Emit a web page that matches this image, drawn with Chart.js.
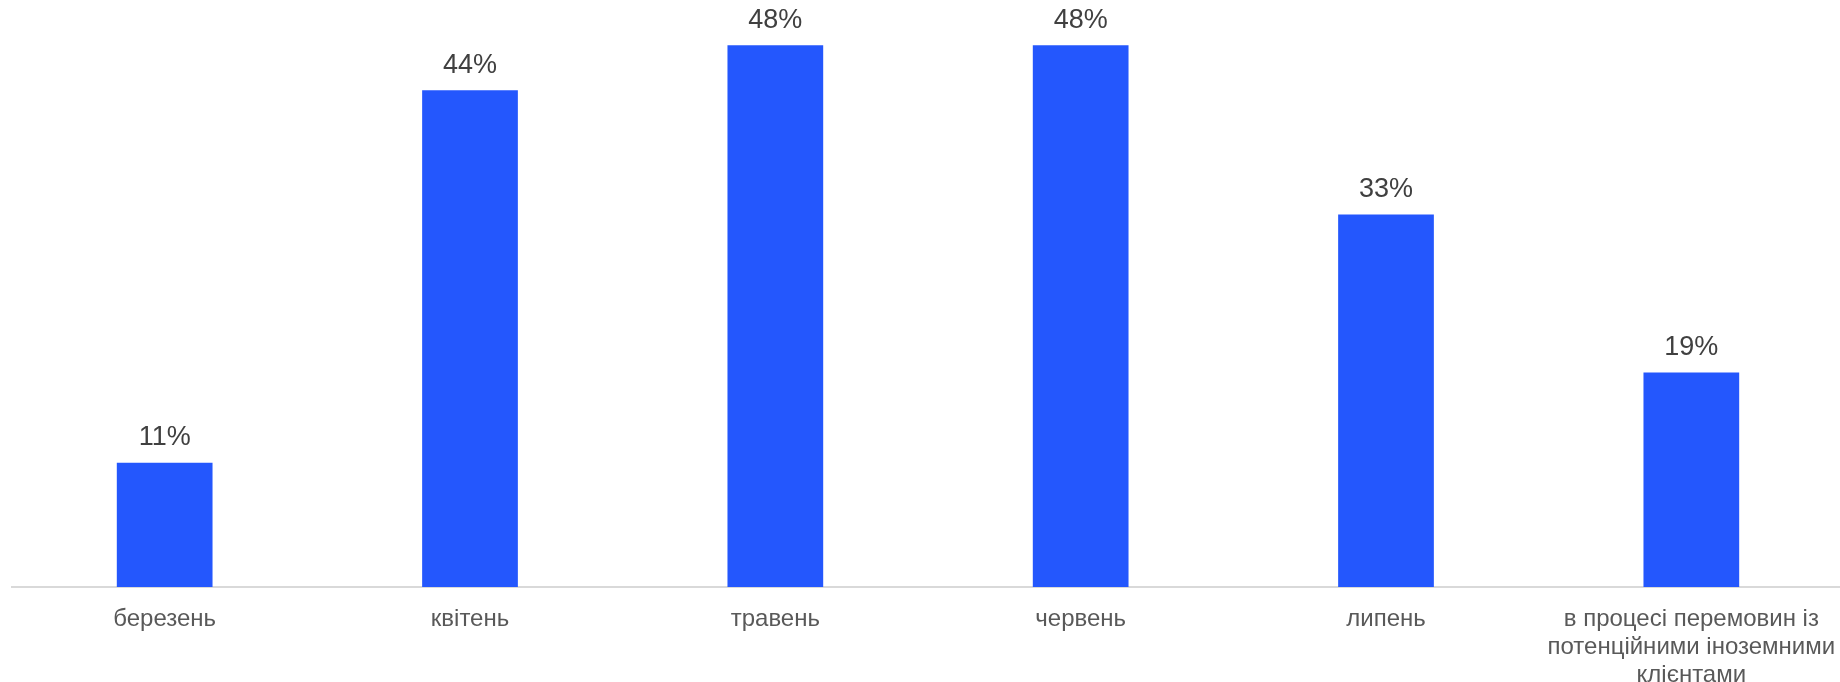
<!DOCTYPE html>
<html>
<head>
<meta charset="utf-8">
<script src="https://cdn.jsdelivr.net/npm/chart.js@4.4.1/dist/chart.umd.min.js"></script>
<style>
  html, body { margin: 0; padding: 0; background: #fff; overflow: hidden; }
  #wrap { width: 1844px; height: 682px; }
</style>
</head>
<body>
<div id="wrap"><canvas id="monthsChart" width="1844" height="682"></canvas></div>
<script>
const categories = [
    'березень',
    'квітень',
    'травень',
    'червень',
    'липень',
    ['в процесі перемовин із', 'потенційними іноземними', 'клієнтами']
];
const shares = [11, 44, 48, 48, 33, 19];

// подписи над столбцами (без плагина datalabels)
const barLabels = {
    id: 'barLabels',
    afterDatasetsDraw(chart) {
        const c = chart.ctx;
        const meta = chart.getDatasetMeta(0);
        c.save();
        c.font = '27px "Liberation Sans", Arial, sans-serif';
        c.fillStyle = '#404040';
        c.textAlign = 'center';
        c.textBaseline = 'middle';
        meta.data.forEach((bar, i) => {
            c.fillText(shares[i] + '%', bar.x, bar.y - 25);
        });
        c.restore();
    }
};

const ctx = document.getElementById('monthsChart').getContext('2d');
new Chart(ctx, {
    type: 'bar',
    data: {
        labels: categories,
        datasets: [{
            data: shares,
            backgroundColor: '#2457fd',
            borderWidth: 0,
            barPercentage: 0.3135,
            categoryPercentage: 1
        }]
    },
    options: {
        responsive: false,
        animation: false,
        devicePixelRatio: 1,
        layout: { padding: { left: 12, top: 0, right: 0, bottom: 0 } },
        plugins: {
            legend: { display: false },
            tooltip: { enabled: false }
        },
        scales: {
            y: {
                display: false,
                min: 0,
                max: 52
            },
            x: {
                grid: { display: false },
                border: { display: true, color: '#d9d9d9', width: 2 },
                ticks: {
                    color: '#595959',
                    font: { family: '"Liberation Sans", Arial, sans-serif', size: 24, lineHeight: 1.18 },
                    padding: 10,
                    maxRotation: 0,
                    autoSkip: false
                },
                afterFit: scale => {
                    scale.height = 95;
                    scale.paddingLeft = 0;
                    scale.paddingRight = 0;
                }
            }
        }
    },
    plugins: [barLabels]
});
</script>
</body>
</html>
